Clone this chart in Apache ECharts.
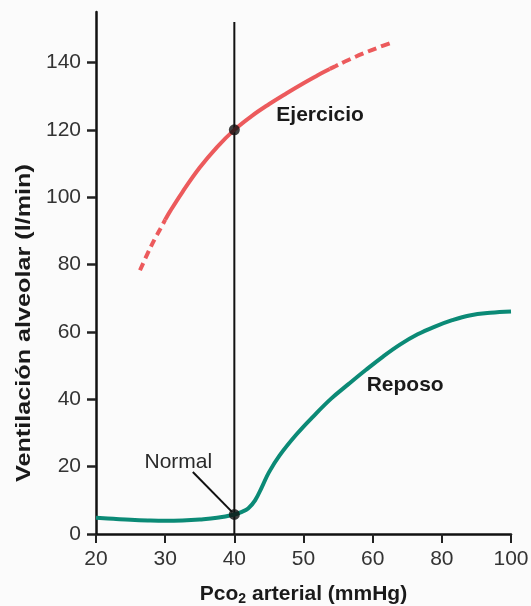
<!DOCTYPE html>
<html>
<head>
<meta charset="utf-8">
<script src="https://cdn.jsdelivr.net/npm/echarts@6/dist/echarts.min.js"></script>
<style>html,body{margin:0;padding:0;background:#fbfbfb;}#c{width:531px;height:606px;}</style>
</head>
<body>
<div id="c"></div>
<script>
// x positions are tick indexes (labels evenly spaced, non-linear)
const xTickLabels = ['20', '30', '40', '50', '60', '80', '100'];
const yTicks = [0, 20, 40, 60, 80, 100, 120, 140];
const reposo = [[0,4.8],[0.25,4.5],[0.5,4.2],[0.75,4.0],[1,3.9],[1.25,4.0],[1.5,4.3],[1.75,4.8],[2,5.8],[2.1,6.5],[2.2,7.6],[2.3,10],[2.4,14],[2.5,18.3],[2.65,23.2],[2.9,29.6],[3.15,35.1],[3.4,40.2],[3.65,44.5],[3.9,48.7],[4.15,52.7],[4.4,56.3],[4.65,59.3],[4.9,61.6],[5.15,63.5],[5.4,64.9],[5.7,65.7],[6,66.1]];
const ejercicioLowDashed = [[0.636,78.3],[0.75,83.45],[0.85,87.6],[0.93,90.6],[1.0,93.3]];
const ejercicioSolid = [[1.0,93.3],[1.07,95.8],[1.25,101.55],[1.5,108.8],[1.75,114.9],[2,120],[2.25,124.1],[2.5,127.6],[2.75,130.8],[3,133.85],[3.2,136.15],[3.3,137.25],[3.38,138.1]];
const ejercicioHighDashed = [[3.38,138.1],[3.46,138.9],[3.6,140.3],[3.865,142.7],[4.1,144.6],[4.3,146.1]];
const normalLine = [[2, 0], [2, 152]];
const keyPoints = [[2, 120], [2, 5.8]];
const normalArrow = [[1.4, 18.4], [1.97, 6.5]];

const FONT = 'Liberation Sans, Arial, Helvetica, sans-serif';
const RED = '#ec5a5c';
const GREEN = '#0b8a76';
const TXT = '#1a1a1a';

const chart = echarts.init(document.getElementById('c'), null, {renderer: 'canvas'});
chart.setOption({
  backgroundColor: '#fbfbfb',
  animation: false,
  grid: {left: 96, right: 20, top: 12, bottom: 72, containLabel: false, outerBoundsMode: 'none'},
  xAxis: {
    type: 'value', min: 0, max: 6, interval: 1,
    axisLine: {show: true, lineStyle: {color: '#111', width: 2.5}},
    axisTick: {show: true, length: 9, lineStyle: {color: '#222', width: 2}},
    splitLine: {show: false},
    axisLabel: {
      margin: 15, color: '#333', fontSize: 21, fontFamily: FONT,
      formatter: v => xTickLabels[Math.round(v)] || ''
    },
    name: '{a|Pco}{s|2}{a| arterial (mmHg)}',
    nameLocation: 'middle', nameGap: 48,
    nameTextStyle: {
      rich: {
        a: {fontSize: 21, fontWeight: 'bold', fontFamily: FONT, color: TXT},
        s: {fontSize: 14, fontWeight: 'bold', fontFamily: FONT, color: TXT, padding: [10, 0, 0, 0]}
      }
    }
  },
  yAxis: {
    type: 'value', min: 0, max: 155,
    axisLine: {show: true, lineStyle: {color: '#111', width: 2.5}},
    axisTick: {show: true, length: 9, customValues: yTicks, lineStyle: {color: '#222', width: 2.5}},
    splitLine: {show: false},
    axisLabel: {customValues: yTicks, margin: 15, color: '#333', fontSize: 21, fontFamily: FONT}
  },
  graphic: [{
    type: 'text', x: 14, y: 482, rotation: Math.PI / 2, scaleX: 1.2,
    style: {text: 'Ventilación alveolar (l/min)', font: 'bold 21px ' + FONT, fill: TXT},
    z: 10
  }],
  series: [
    {type: 'line', data: normalLine, symbol: 'none', lineStyle: {color: '#111', width: 2}, z: 3, silent: true},
    {type: 'line', data: reposo, smooth: 0.4, symbol: 'none', lineStyle: {color: GREEN, width: 4}, z: 4},
    {type: 'line', data: ejercicioSolid, smooth: 0.4, symbol: 'none', lineStyle: {color: RED, width: 4}, z: 4},
    {type: 'line', data: ejercicioLowDashed, smooth: 0.4, symbol: 'none', lineStyle: {color: RED, width: 4, type: [8, 5]}, z: 4},
    {type: 'line', data: ejercicioHighDashed, smooth: 0.4, symbol: 'none', lineStyle: {color: RED, width: 4, type: [9, 5]}, z: 4},
    {type: 'line', data: normalArrow, symbol: 'none', lineStyle: {color: '#111', width: 2}, z: 5},
    {type: 'scatter', data: keyPoints, symbol: 'circle', symbolSize: 11, itemStyle: {color: '#111'}, z: 6},
    {type: 'scatter', symbolSize: 1, itemStyle: {opacity: 0}, z: 7,
      data: [
        {value: [1.19, 21.4], label: {formatter: 'Normal', fontWeight: 'normal', color: '#2a2a2a'}},
        {value: [3.24, 124.5], label: {formatter: 'Ejercicio', fontWeight: 'bold', color: TXT}},
        {value: [4.47, 44.3], label: {formatter: 'Reposo', fontWeight: 'bold', color: TXT}}
      ],
      label: {show: true, position: 'inside', fontSize: 21, fontFamily: FONT, color: TXT, opacity: 1}
    }
  ]
});
</script>
</body>
</html>
